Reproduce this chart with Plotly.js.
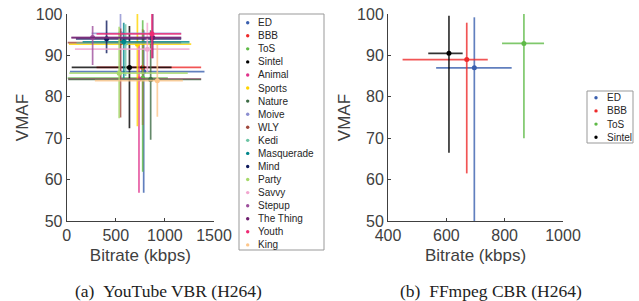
<!DOCTYPE html>
<html><head><meta charset="utf-8">
<script src="https://cdn.plot.ly/plotly-3.0.1.min.js"></script>
<style>html,body{margin:0;padding:0;background:#fff}#chart{width:639px;height:301px}</style>
</head><body><div id="chart"></div>
<script>
// ---- Data: (a) YouTube VBR (H264) ----
const videosA = ["ED","BBB","ToS","Sintel","Animal","Sports","Nature","Moive","WLY","Kedi","Masquerade","Mind","Party","Savvy","Stepup","The Thing","Youth","King"];
const bitrateA     = [784, 774, 774, 639, 736, 720, 855, 548, 548, 600, 581, 406, 534, 821, 264, 876, 868, 923];
const bitrateLowA  = [ 33, 304,  10,  51,  16,  23,  16, 254,  10, 100, 162,  94,  26,  84,  44,  51, 304, 287];
const bitrateHighA = [1403,1369,1030,1068,1369,1268,1369,1166,1166,1250,1250,1166,1233,1250,1166,1166,1166,1183];
const vmafA        = [86.1, 87.1, 84.5, 87.1, 84.3, 92.7, 84.2, 95.3, 93.1, 93.0, 93.3, 94.0, 85.7, 91.5, 94.3, 94.3, 95.2, 83.9];
const vmafLowA     = [56.8, 73.2, 61.9, 72.4, 56.8, 72.9, 69.6, 84.0, 75.0, 85.0, 84.5, 90.5, 74.8, 86.0, 87.7, 89.3, 89.3, 75.2];
const vmafHighA    = [96.1, 96.3, 98.5, 97.1, 93.0, 100, 96.1, 100, 96.5, 97.5, 97.9, 98.4, 96.9, 97.9, 97.1, 100, 100, 92.5];

// ---- Data: (b) FFmpeg CBR (H264) ----
const videosB = ["ED","BBB","ToS","Sintel"];
const bitrateB     = [696, 670, 866, 609];
const bitrateLowB  = [565, 450, 791, 538];
const bitrateHighB = [824, 742, 935, 656];
const vmafB        = [87.0, 89.0, 92.9, 90.5];
const vmafLowB     = [50.0, 61.5, 70.0, 66.5];
const vmafHighB    = [99.2, 97.9, 100, 99.6];

// ---- Styles ----
const colorsA = ["#3a5fae","#ee2a2a","#5fba47","#000000","#e0338c","#ffd400","#3d6b45","#8c8fd0","#a0483c","#6cc4a4","#00868b","#0e1a5c","#a6d96a","#f2a6cf","#9d4f9c","#6e1f6e","#ef2a74","#fdc68a"];
const colorsB = ["#3a5fae","#ee2a2a","#5fba47","#000000"];

function rgba(hex, a){
  const r=parseInt(hex.slice(1,3),16), g=parseInt(hex.slice(3,5),16), b=parseInt(hex.slice(5,7),16);
  return `rgba(${r},${g},${b},${a})`;
}

const traces = [];
function addSeries(names, xs, xl, xh, ys, yl, yh, cols, xa, ya){
  names.forEach((n,i)=>{
    traces.push({
      type:'scatter', mode:'markers', name:n, xaxis:xa, yaxis:ya,
      x:[xs[i]], y:[ys[i]], showlegend:false, cliponaxis:true,
      marker:{color:cols[i], size:5},
      error_x:{type:'data', symmetric:false, array:[xh[i]-xs[i]], arrayminus:[xs[i]-xl[i]], width:0, thickness:1.7, color:rgba(cols[i],0.8)},
      error_y:{type:'data', symmetric:false, array:[yh[i]-ys[i]], arrayminus:[ys[i]-yl[i]], width:0, thickness:1.7, color:rgba(cols[i],0.8)}
    });
  });
}
addSeries(videosA, bitrateA, bitrateLowA, bitrateHighA, vmafA, vmafLowA, vmafHighA, colorsA, 'x', 'y');
addSeries(videosB, bitrateB, bitrateLowB, bitrateHighB, vmafB, vmafLowB, vmafHighB, colorsB, 'x2', 'y2');

const W=639, H=301;
const px = v => v/W, py = v => 1 - v/H;
const axFont = {family:'"Liberation Sans", Arial, sans-serif', size:16, color:'#404040'};
const titleFont = {family:'"Liberation Sans", Arial, sans-serif', size:17, color:'#404040'};
function xAx(dom, range, dtick, anchor){
  return {domain:dom, range:range, dtick:dtick, tick0:range[0], anchor:anchor, showline:true, linecolor:'#404040', linewidth:1,
    ticks:'inside', ticklen:3, tickcolor:'#404040', showgrid:false, zeroline:false, tickfont:axFont,
    title:{text:'Bitrate (kbps)', font:titleFont, standoff:5}};
}
function yAx(range, anchor){
  return {domain:[py(221), py(14)], range:range, dtick:10, tick0:50, anchor:anchor, showline:true, linecolor:'#404040', linewidth:1,
    ticks:'inside', ticklen:3, tickcolor:'#404040', showgrid:false, zeroline:false, tickfont:axFont,
    title:{text:'VMAF', font:titleFont, standoff:2}};
}

const shapes = [];
const annotations = [];
const legFont = {family:'"Liberation Sans", Arial, sans-serif', size:10, color:'#262626'};
function legend(names, cols, box, first, step, dotX, textX){
  shapes.push({type:'rect', xref:'paper', yref:'paper', x0:px(box[0]), x1:px(box[1]), y0:py(box[3]), y1:py(box[2]), line:{color:'#999999', width:1}, fillcolor:'rgba(0,0,0,0)'});
  names.forEach((n,i)=>{
    const yc = first + i*step;
    shapes.push({type:'circle', xref:'paper', yref:'paper', x0:px(dotX-1.7), x1:px(dotX+1.7), y0:py(yc+1.7), y1:py(yc-1.7), fillcolor:cols[i], line:{width:0}});
    annotations.push({xref:'paper', yref:'paper', x:px(textX), y:py(yc), xanchor:'left', yanchor:'middle', showarrow:false, text:n, font:legFont, borderpad:0});
  });
}
legend(videosA, colorsA, [239,324,14,250], 22.7, 13.07, 247.7, 256.5);
legend(videosB, colorsB, [587,633,91,143], 97.7, 13.2, 596, 605.5);

const capFont = {family:'"Liberation Serif", "DejaVu Serif", serif', size:17.5, color:'#222222'};
annotations.push({xref:'paper', yref:'paper', x:px(168), y:py(291), xanchor:'center', yanchor:'middle', showarrow:false, text:'(a)&nbsp;&nbsp;YouTube VBR (H264)', font:capFont});
annotations.push({xref:'paper', yref:'paper', x:px(491), y:py(291), xanchor:'center', yanchor:'middle', showarrow:false, text:'(b)&nbsp;&nbsp;FFmpeg CBR (H264)', font:capFont});

const layout = {
  width:W, height:H, margin:{l:0,r:0,t:0,b:0}, paper_bgcolor:'#fff', plot_bgcolor:'#fff', showlegend:false,
  xaxis: xAx([px(66.7), px(214)], [0,1500], 500, 'y'),
  yaxis: yAx([50,100], 'x'),
  xaxis2: xAx([px(388), px(563)], [400,1000], 200, 'y2'),
  yaxis2: yAx([50,100], 'x2'),
  shapes:shapes, annotations:annotations
};
Plotly.newPlot('chart', traces, layout, {staticPlot:true, displayModeBar:false});
</script></body></html>
